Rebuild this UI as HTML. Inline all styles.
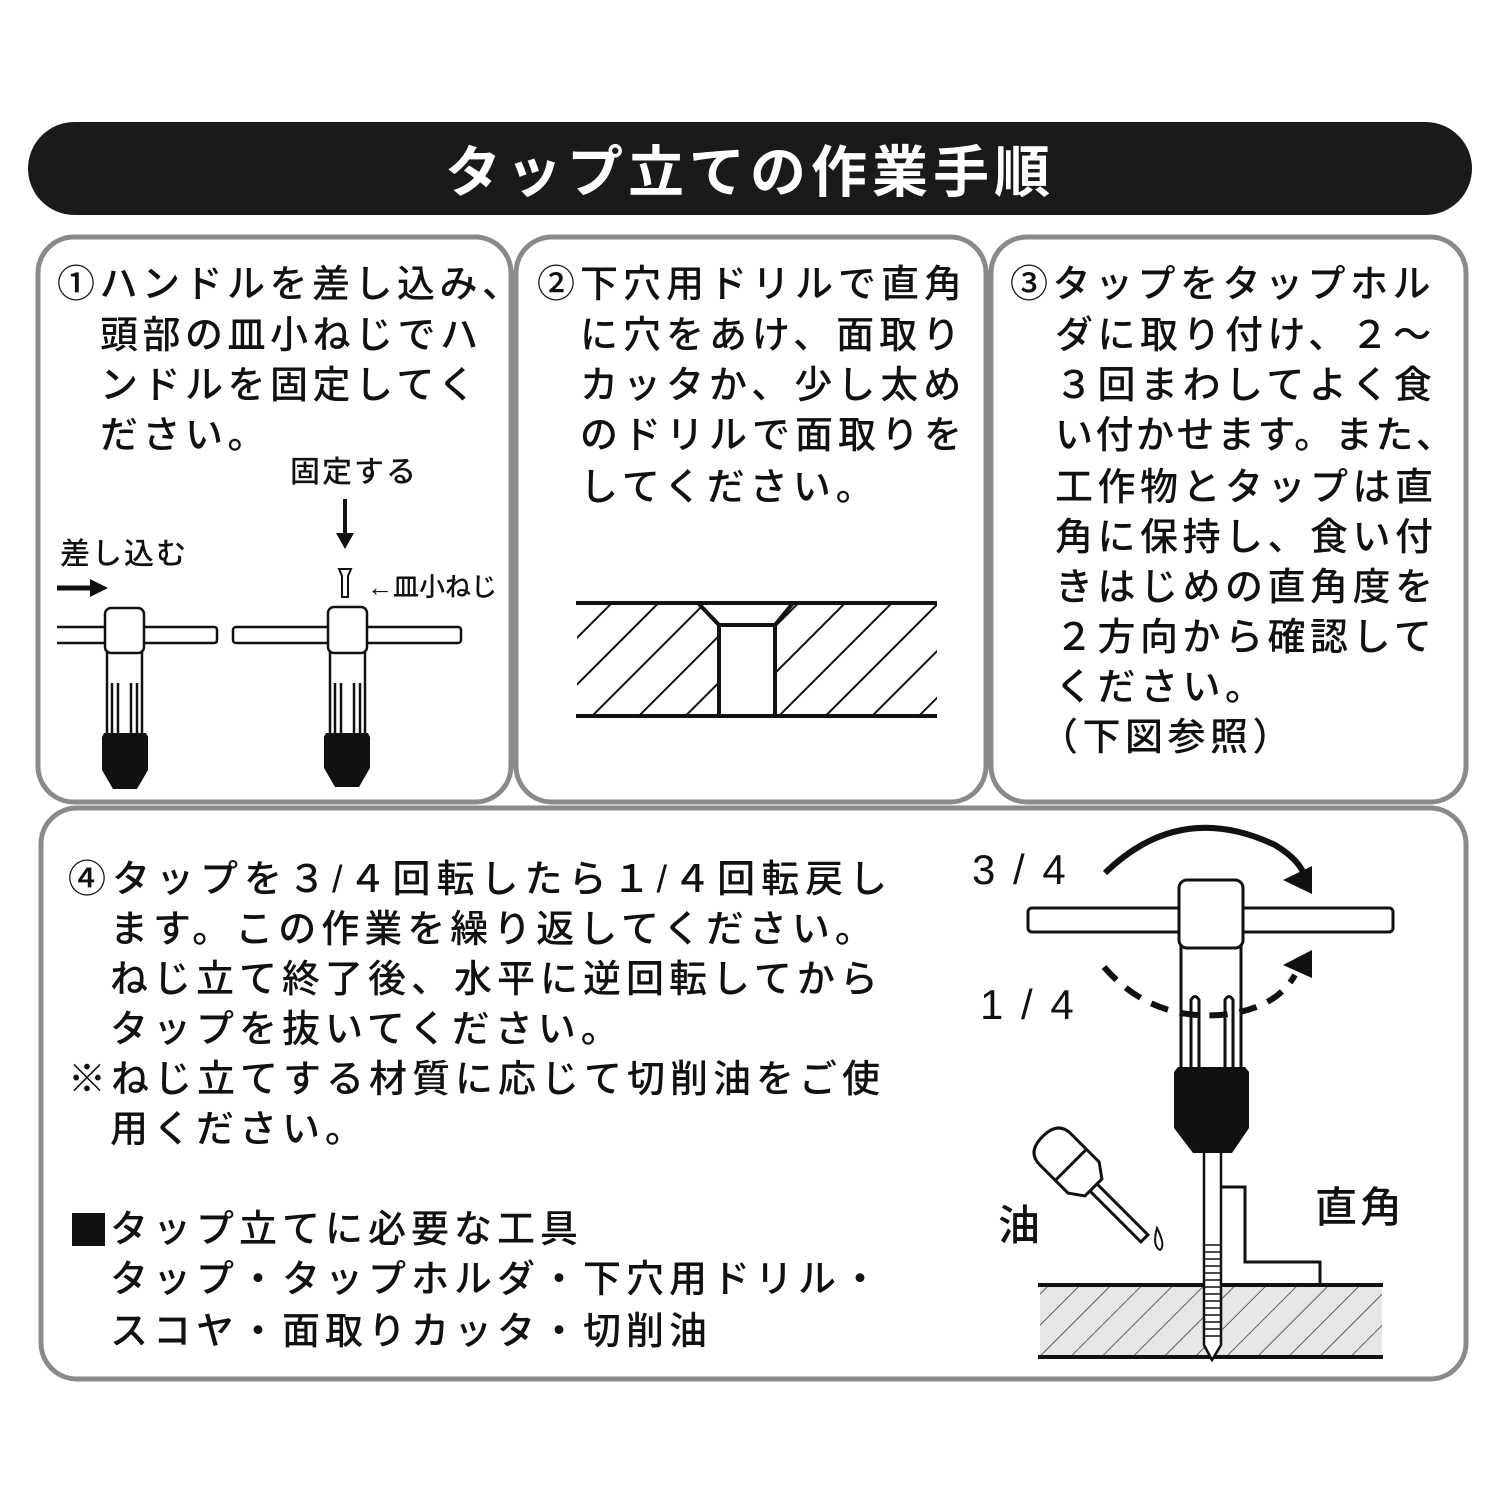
<!DOCTYPE html>
<html><head><meta charset="utf-8"><style>
html,body{margin:0;padding:0;background:#fff;}
svg{display:block;}
text{font-family:"Liberation Sans","Noto Sans CJK JP",sans-serif;}
</style></head><body>
<svg width="1500" height="1500" viewBox="0 0 1500 1500" xmlns="http://www.w3.org/2000/svg">
<defs>
<pattern id="h1" patternUnits="userSpaceOnUse" width="33" height="33" patternTransform="rotate(45)">
<line x1="0" y1="0" x2="0" y2="33" stroke="#111" stroke-width="4"/></pattern>
<pattern id="h2" patternUnits="userSpaceOnUse" width="22" height="22" patternTransform="rotate(45)">
<line x1="0" y1="0" x2="0" y2="22" stroke="#333" stroke-width="1.5"/></pattern>
</defs>
<rect x="28" y="122" width="1444" height="93" rx="46.5" fill="#1a1a1a"/>
<text x="750" y="192" text-anchor="middle" font-size="56" font-weight="bold" fill="#fff" letter-spacing="5">タップ立ての作業手順</text>

<g fill="none" stroke="#8a8a8a" stroke-width="5">
<rect x="38" y="237" width="473" height="565" rx="36"/>
<rect x="516" y="237" width="470" height="565" rx="36"/>
<rect x="991" y="237" width="475" height="565" rx="36"/>
<rect x="41" y="808" width="1425" height="571" rx="36"/>
</g>

<g font-size="38" fill="#111" letter-spacing="4.5" font-weight="500">
<text x="57" y="297">①ハンドルを差し込み、</text>
<text x="100" y="348">頭部の皿小ねじでハ</text>
<text x="100" y="398">ンドルを固定してく</text>
<text x="100" y="448">ださい。</text>

<text x="537" y="297" letter-spacing="5">②下穴用ドリルで直角</text>
<text x="580" y="348" letter-spacing="5">に穴をあけ、面取り</text>
<text x="580" y="398" letter-spacing="5">カッタか、少し太め</text>
<text x="580" y="448" letter-spacing="5">のドリルで面取りを</text>
<text x="580" y="500" letter-spacing="5">してください。</text>

<text x="1010" y="297">③タップをタップホル</text>
<text x="1055" y="348">ダに取り付け、２～</text>
<text x="1055" y="398">３回まわしてよく食</text>
<text x="1055" y="448" letter-spacing="2.5">い付かせます。また、</text>
<text x="1055" y="500">工作物とタップは直</text>
<text x="1055" y="550">角に保持し、食い付</text>
<text x="1055" y="600">きはじめの直角度を</text>
<text x="1055" y="650">２方向から確認して</text>
<text x="1055" y="700">ください。</text>
<text x="1040" y="750">（下図参照）</text>

<text x="68" y="892" letter-spacing="6">④タップを３/４回転したら１/４回転戻し</text>
<text x="110" y="942" letter-spacing="5">ます。この作業を繰り返してください。</text>
<text x="110" y="992" letter-spacing="5">ねじ立て終了後、水平に逆回転してから</text>
<text x="110" y="1042" letter-spacing="5">タップを抜いてください。</text>
<text x="68" y="1092" letter-spacing="5">※ねじ立てする材質に応じて切削油をご使</text>
<text x="110" y="1142" letter-spacing="5">用ください。</text>
<text x="110" y="1242" letter-spacing="5">タップ立てに必要な工具</text>
<text x="110" y="1292" letter-spacing="5">タップ・タップホルダ・下穴用ドリル・</text>
<text x="110" y="1344" letter-spacing="5">スコヤ・面取りカッタ・切削油</text>
</g>
<rect x="72" y="1213" width="33" height="33" fill="#111"/>

<!-- panel 1 drawing -->
<g font-size="30" fill="#111" font-weight="500">
<text x="290" y="482" letter-spacing="2">固定する</text>
<text x="60" y="564" letter-spacing="2">差し込む</text>
<text x="367" y="596" font-size="26">←皿小ねじ</text>
</g>
<line x1="345" y1="499" x2="345" y2="535" stroke="#111" stroke-width="4"/>
<path d="M336,533 L354,533 L345,549 z" fill="#111"/>
<line x1="57" y1="588" x2="92" y2="588" stroke="#111" stroke-width="5"/>
<path d="M90,579 L108,588 L90,597 z" fill="#111"/>
<path d="M339,569 L351,569 L348,576 L348,597 L342,597 L342,576 z" fill="#fff" stroke="#111" stroke-width="2"/>
<g fill="#fff" stroke="#111" stroke-width="2.5">
<path d="M57,627 L214,627 Q217,627 217,630 L217,640 Q217,643 214,643 L57,643"/>
<rect x="233" y="627" width="228" height="16" rx="3"/>
<rect x="107" y="650" width="35" height="85"/>
<rect x="330" y="650" width="35" height="85"/>
<rect x="105" y="608" width="39" height="45" rx="6"/>
<rect x="328" y="607" width="39" height="46" rx="6"/>
<line x1="112" y1="683" x2="112" y2="733"/><line x1="118" y1="683" x2="118" y2="733"/>
<line x1="131" y1="683" x2="131" y2="733"/><line x1="137" y1="683" x2="137" y2="733"/>
<line x1="335" y1="683" x2="335" y2="733"/><line x1="341" y1="683" x2="341" y2="733"/>
<line x1="354" y1="683" x2="354" y2="733"/><line x1="360" y1="683" x2="360" y2="733"/>
</g>
<path d="M104,733 L146,733 L148,737 L148,770 L137,789 L113,789 L102,770 L102,737 z" fill="#111"/>
<path d="M326,733 L368,733 L370,737 L370,768 L359,787 L335,787 L324,768 L324,737 z" fill="#111"/>

<!-- panel 2 drawing -->
<rect x="577" y="603" width="360" height="113" fill="url(#h1)"/>
<path d="M698,603 L719,625 L719,716 L775,716 L775,625 L793,603 z" fill="#fff"/>
<g stroke="#111" stroke-width="4" fill="none">
<line x1="576" y1="603" x2="937" y2="603"/>
<line x1="576" y1="716" x2="937" y2="716"/>
<path d="M698,603 L719,625 L775,625 L793,603"/>
<rect x="719" y="625" width="56" height="91"/>
</g>

<!-- panel 4 drawing -->
<g font-size="42" fill="#111" font-weight="500">
<text x="972" y="884" letter-spacing="3">3 / 4</text>
<text x="980" y="1019" letter-spacing="3">1 / 4</text>
<text x="998" y="1240">油</text>
<text x="1315" y="1222" letter-spacing="3">直角</text>
</g>
<rect x="1040" y="1287" width="342" height="70" fill="#e6e6e6"/>
<rect x="1040" y="1287" width="342" height="70" fill="url(#h2)"/>
<line x1="1038" y1="1285" x2="1383" y2="1285" stroke="#111" stroke-width="4"/>
<line x1="1038" y1="1357" x2="1383" y2="1357" stroke="#111" stroke-width="4"/>
<path d="M1222,1187 L1245,1187 L1245,1262 L1320,1262 L1320,1285" fill="none" stroke="#111" stroke-width="3"/>
<path d="M1204,1150 L1221,1150 L1221,1345 L1212,1360 L1204,1345 z" fill="#fff" stroke="#111" stroke-width="2.5"/>
<g stroke="#111" stroke-width="1.5">
<line x1="1205" y1="1245" x2="1220" y2="1245"/><line x1="1205" y1="1252" x2="1220" y2="1252"/><line x1="1205" y1="1259" x2="1220" y2="1259"/><line x1="1205" y1="1266" x2="1220" y2="1266"/><line x1="1205" y1="1273" x2="1220" y2="1273"/><line x1="1205" y1="1280" x2="1220" y2="1280"/><line x1="1205" y1="1287" x2="1220" y2="1287"/><line x1="1205" y1="1294" x2="1220" y2="1294"/><line x1="1205" y1="1301" x2="1220" y2="1301"/><line x1="1205" y1="1308" x2="1220" y2="1308"/><line x1="1205" y1="1315" x2="1220" y2="1315"/><line x1="1205" y1="1322" x2="1220" y2="1322"/><line x1="1205" y1="1329" x2="1220" y2="1329"/><line x1="1205" y1="1336" x2="1220" y2="1336"/>
</g>
<g fill="#fff" stroke="#111" stroke-width="3">
<rect x="1181" y="940" width="60" height="135"/>
<rect x="1028" y="908" width="365" height="24" rx="4"/>
<rect x="1179" y="880" width="64" height="68" rx="8"/>
<path d="M1191,1075 L1191,1000 Q1195,993 1199,1000 L1199,1075"/>
<path d="M1225,1075 L1225,1000 Q1229,993 1233,1000 L1233,1075"/>
</g>
<path d="M1178,1067 L1245,1067 L1249,1072 L1249,1128 L1232,1153 L1193,1153 L1174,1128 L1174,1072 z" fill="#111"/>
<path d="M1105,873 Q1180,800 1275,845 Q1300,860 1305,877" fill="none" stroke="#111" stroke-width="6"/>
<path d="M1283,880 L1312,866 L1312,894 z" fill="#111"/>
<path d="M1104,967 Q1150,1020 1220,1015 Q1275,1010 1295,975" fill="none" stroke="#111" stroke-width="6" stroke-dasharray="18,12"/>
<path d="M1283,965 L1312,950 L1312,978 z" fill="#111"/>
<g transform="translate(1068,1162) rotate(-45)" fill="#fff" stroke="#111" stroke-width="3">
<path d="M-5,35 L-5,108 L5,108 L5,35"/>
<path d="M-22,22 L-22,-18 Q-22,-36 0,-36 Q22,-36 22,-18 L22,22 L12,36 L-12,36 z"/>
<line x1="-22" y1="4" x2="22" y2="4"/>
</g>
<path d="M1157,1228 Q1166,1246 1160,1250 Q1152,1246 1157,1228 z" fill="#fff" stroke="#111" stroke-width="2"/>
</svg>
</body></html>
